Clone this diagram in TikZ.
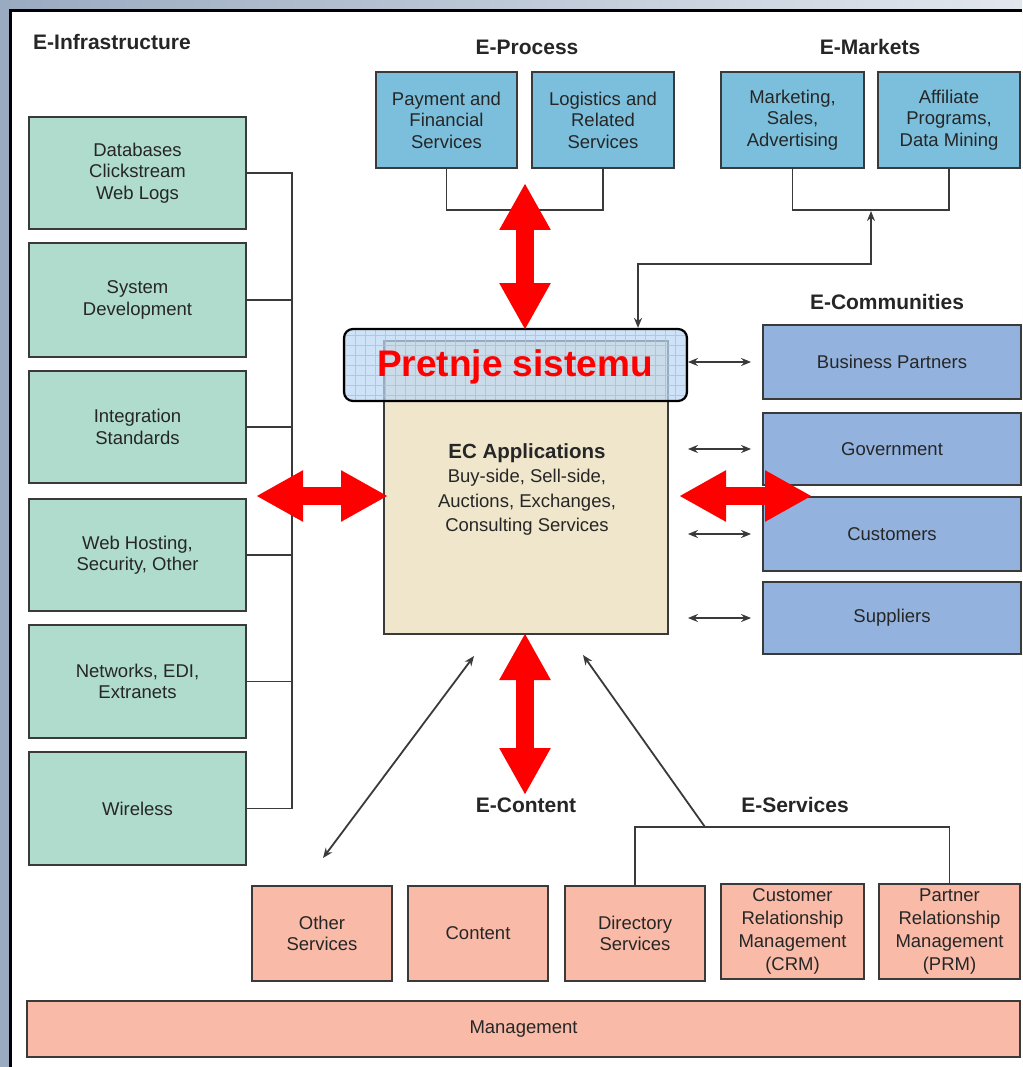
\documentclass[tikz,border=0pt]{standalone}
\usepackage{fontspec}
\setmainfont{Liberation Sans}
\usetikzlibrary{arrows.meta,calc}

\definecolor{ink}{HTML}{262626}
\definecolor{edge}{HTML}{3A3A3A}
\definecolor{infra}{HTML}{B0DCCD}
\definecolor{proc}{HTML}{7CBFDC}
\definecolor{comm}{HTML}{93B3DE}
\definecolor{serv}{HTML}{F9BBA8}
\definecolor{app}{HTML}{EFE6CC}
\definecolor{threat}{HTML}{BCD8F6}
\definecolor{threatgrid}{HTML}{9EC3EC}
\definecolor{slideA}{HTML}{9AAAC0}
\definecolor{slideB}{HTML}{E2E7EE}
\definecolor{alert}{HTML}{FF0000}

\tikzset{
  box/.style={draw=edge, line width=1.8pt, text=ink, align=center, inner sep=0pt,
              font=\fontsize{18.5}{21.5}\selectfont},
  ibox/.style={box, fill=infra, minimum width=217pt},
  pbox/.style={box, fill=proc, minimum width=142pt, minimum height=96pt},
  cbox/.style={box, fill=comm, minimum width=258pt},
  sbox/.style={box, fill=serv, minimum height=95pt},
  group/.style={text=ink, inner sep=0pt, font=\fontsize{21}{24}\selectfont\bfseries},
  wire/.style={draw=edge, line width=1.8pt},
  tip/.style={wire, {Stealth[length=10pt,width=8pt]}-{Stealth[length=10pt,width=8pt]}},
  tipone/.style={wire, -{Stealth[length=10pt,width=8pt]}},
  bigarrow/.style={draw=alert, line width=18pt,
     {Triangle[width=48pt,length=47pt]}-{Triangle[width=48pt,length=47pt]}},
}

\begin{document}
\begin{tikzpicture}[x=1pt, y=-1pt]
\useasboundingbox (0,0) rectangle (1022,1067);

% slide background and framed canvas
\fill[left color=slideA, right color=slideB] (0,0) rectangle (1022,1067);
\fill[white] (10,11) rectangle (1022,1067);
\draw[line width=3pt, black] (10,1067) |- (1022,11);

% group headings
\node[group, anchor=west] (hinf) at (33,42) {E-Infrastructure};
\node[group] (hproc) at (527,47) {E-Process};
\node[group] (hmark) at (870,47) {E-Markets};
\node[group] (hcomm) at (887,302) {E-Communities};
\node[group] (hcont) at (526,805) {E-Content};
\node[group] (hserv) at (795,805) {E-Services};

% E-Infrastructure column
\node[ibox, minimum height=112pt] (db) at (137.5,173) {Databases\\Clickstream\\Web Logs};
\node[ibox, minimum height=114pt] (sd) at (137.5,300) {System\\Development};
\node[ibox, minimum height=112pt] (is) at (137.5,427) {Integration\\Standards};
\node[ibox, minimum height=112pt] (wh) at (137.5,555) {Web Hosting,\\Security, Other};
\node[ibox, minimum height=113pt] (nw) at (137.5,681.5) {Networks, EDI,\\Extranets};
\node[ibox, minimum height=113pt] (wl) at (137.5,808.5) {Wireless};

\coordinate (bus) at (292,0);
\draw[wire] (db.east) -| (bus |- wl.east) -- (wl.east);
\foreach \b in {sd,is,wh,nw} \draw[wire] (\b.east) -- (bus |- \b.east);

% E-Process and E-Markets
\node[pbox, minimum width=141pt] (pay) at (446.5,120) {Payment and\\Financial\\Services};
\node[pbox] (log) at (603,120) {Logistics and\\Related\\Services};
\node[pbox, minimum width=143pt] (mkt) at (792.5,120) {Marketing,\\Sales,\\Advertising};
\node[pbox] (aff) at (949,120) {Affiliate\\Programs,\\Data Mining};

\coordinate (pbar) at (0,210);
\draw[wire] (pay.south) -- (pay.south |- pbar) -| (log.south);
\draw[wire] (mkt.south) -- (mkt.south |- pbar) -| (aff.south);

% central application block
\node[box, fill=app, minimum width=284pt, minimum height=293pt] (ec) at (526,487.5) {};
\node[text=ink, align=center, anchor=north, font=\fontsize{18.5}{24.5}\selectfont] (ectext) at (527,440)
  {{\fontsize{20.5}{24}\selectfont\bfseries EC Applications}\\
   Buy-side, Sell-side,\\ Auctions, Exchanges,\\ Consulting Services};

% threat banner over the application block
\node[draw=black, line width=2.2pt, rounded corners=9pt, fill=threat, fill opacity=0.72,
      text opacity=1, minimum width=343pt, minimum height=72pt, inner sep=0pt,
      path picture={\draw[threatgrid, line width=0.5pt, draw opacity=0.8, step=10pt]
        (path picture bounding box.south west) grid (path picture bounding box.north east);}]
  (pret) at (515.5,365) {};
\node[text=alert, font=\fontsize{37}{40}\selectfont\bfseries] (prettext) at (515,367) {Pretnje sistemu};

% link between the banner and E-Markets
\coordinate (mkin) at (871,211);
\coordinate (emx) at (638,0);
\coordinate (elbow) at (0,264);
\draw[tip] (pret.north -| emx) |- (mkin |- elbow) -- (mkin);

% E-Communities
\node[cbox, minimum height=74pt] (bp) at (892,362) {Business Partners};
\node[cbox, minimum height=72pt] (gov) at (892,449) {Government};
\node[cbox, minimum height=74pt] (cus) at (892,534) {Customers};
\node[cbox, minimum height=72pt] (sup) at (892,618) {Suppliers};
\foreach \c in {bp,gov,cus,sup}
  \draw[tip, shorten <=19pt, shorten >=11pt] (ec.east |- \c.west) -- (\c.west);

% E-Content and E-Services
\node[sbox, minimum width=140pt] (oth) at (322,933.5) {Other\\Services};
\node[sbox, minimum width=140pt] (cnt) at (478,933.5) {Content};
\node[sbox, minimum width=140pt] (dir) at (635,933.5) {Directory\\Services};
\node[sbox, minimum width=143pt, font=\fontsize{18.5}{23}\selectfont] (crm) at (792.5,931.5)
  {Customer\\Relationship\\Management\\(CRM)};
\node[sbox, minimum width=141pt, font=\fontsize{18.5}{23}\selectfont] (prm) at (949.5,931.5)
  {Partner\\Relationship\\Management\\(PRM)};
\node[sbox, minimum width=993pt, minimum height=56pt] (mgmt) at (523.5,1029) {Management};

\coordinate (esv) at (705,827);
\coordinate (ecbr) at (583,655);
\coordinate (ecbl) at (474,656);
\coordinate (othtop) at (323,858);
\draw[wire] (dir.north) |- (esv) -| (prm.north);
\draw[tipone] (esv) -- (ecbr);
\draw[tip] (othtop) -- (ecbl);

% highlighted flows
\coordinate (la) at (256,496);
\coordinate (lb) at (388,496);
\coordinate (ra) at (679,496);
\coordinate (rb) at (812,496);
\coordinate (ta) at (525,183);
\coordinate (tb) at (525,330);
\coordinate (ba) at (525,633);
\coordinate (bb) at (525,795);
\draw[bigarrow] (la) -- (lb);
\draw[bigarrow] (ra) -- (rb);
\draw[bigarrow] (ta) -- (tb);
\draw[bigarrow] (ba) -- (bb);
\end{tikzpicture}
\end{document}
